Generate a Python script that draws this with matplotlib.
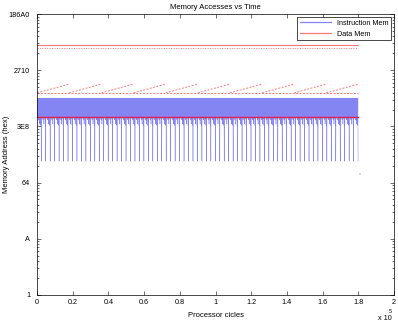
import numpy as np
import matplotlib
matplotlib.use("Agg")
import matplotlib.pyplot as plt
from matplotlib.ticker import FixedLocator, LogLocator, NullFormatter

plt.rcParams['font.family'] = ['Liberation Sans', 'DejaVu Sans']

# --- data (addresses in decimal, cycles) ---
# one pass of the instruction loop (addresses), repeated every loop_cycles
loop_addr = [3200, 1500, 3180, 1450, 3200, 1520, 3150, 1300, 3190, 1480,
             3200, 1100, 3170, 1500, 3200, 1400, 3160, 1050, 3200, 240]
loop_cycles = 2500
n_loops = 72
end_addr = 140            # last isolated access
end_cycle = 181000

# data memory accesses
stack_top = 28000
stack_dot = 25000
saw_low = 3940
saw_high = 5690
saw_cycles = 18000
n_saw = 10
heap_dot = 3900
global_line = 1470
data_end = 180000

yticks = [1, 10, 100, 1000, 10000, 100000]
ytick_labels = ['1', 'A', '64', '3E8', '2710', '186A0']
xticks = [0, 0.2e5, 0.4e5, 0.6e5, 0.8e5, 1.0e5, 1.2e5, 1.4e5, 1.6e5, 1.8e5, 2.0e5]
xtick_labels = ['0', '0.2', '0.4', '0.6', '0.8', '1', '1.2', '1.4', '1.6', '1.8', '2']

fig = plt.figure(figsize=(3.98, 3.28), dpi=100)
ax = fig.add_axes([0.093, 0.101, 0.897, 0.856])

blue = '#8484f2'
red = '#ff7878'

# instruction memory trace
instr_y = np.tile(loop_addr, n_loops)
instr_x = np.arange(len(instr_y)) * (loop_cycles / len(loop_addr))
ax.plot(instr_x, instr_y, color=blue, lw=0.35, label='Instruction Mem')
ax.plot([end_cycle], [end_addr], 's', color='#d8d8e8', ms=1.5, mew=0)

# data memory
ax.plot([0, data_end], [stack_top, stack_top], color=red, lw=0.8,
        label='Data Mem')
ax.plot([0, data_end], [stack_dot, stack_dot], color=red, lw=0.7,
        ls=(0, (1, 1.5)))
for k in range(n_saw):
    x0 = k * saw_cycles
    ax.plot([x0, x0 + saw_cycles], [saw_low, saw_high], color=red, lw=0.7,
            ls=(0, (2, 1.5)))
ax.plot([0, data_end], [heap_dot, heap_dot], color=red, lw=0.7,
        ls=(0, (2, 1.5)))
ax.plot([0, data_end], [global_line, global_line], color='#e0204a', lw=1.0)

ax.set_yscale('log')
ax.set_ylim(1, 100000)
ax.set_xlim(0, 2e5)
ax.yaxis.set_major_locator(FixedLocator(yticks))
ax.set_yticklabels(ytick_labels)
ax.yaxis.set_minor_locator(LogLocator(base=10, subs=np.arange(2, 10)))
ax.yaxis.set_minor_formatter(NullFormatter())
ax.set_xticks(xticks)
ax.set_xticklabels(xtick_labels)

ax.tick_params(which='both', direction='in', top=True, right=True,
               labelsize=5.2, width=0.4, pad=3)
ax.tick_params(which='major', length=3)
ax.tick_params(which='minor', length=1.5)
ax.tick_params(axis='y', pad=5)
for s in ax.spines.values():
    s.set_linewidth(0.5)

ax.set_title('Memory Accesses vs Time', fontsize=5.5, pad=4)
ax.set_xlabel('Processor cicles', fontsize=5.5, labelpad=4)
ax.set_ylabel('Memory Address (hex)', fontsize=5.5, labelpad=3)
ax.yaxis.set_label_coords(-0.075, 0.5)
ax.text(0.955, -0.085, 'x 10', transform=ax.transAxes, fontsize=5.2,
        ha='left', va='center')
ax.text(0.985, -0.06, '5', transform=ax.transAxes, fontsize=4,
        ha='left', va='center')

leg = ax.legend(loc='upper right', fontsize=5.2, handlelength=4.3,
                borderaxespad=0.4, fancybox=False, framealpha=1)
leg.get_frame().set_edgecolor('black')
leg.get_frame().set_linewidth(0.5)
for h in leg.get_lines():
    h.set_linewidth(0.9)

fig.savefig('out.png', dpi=100)
